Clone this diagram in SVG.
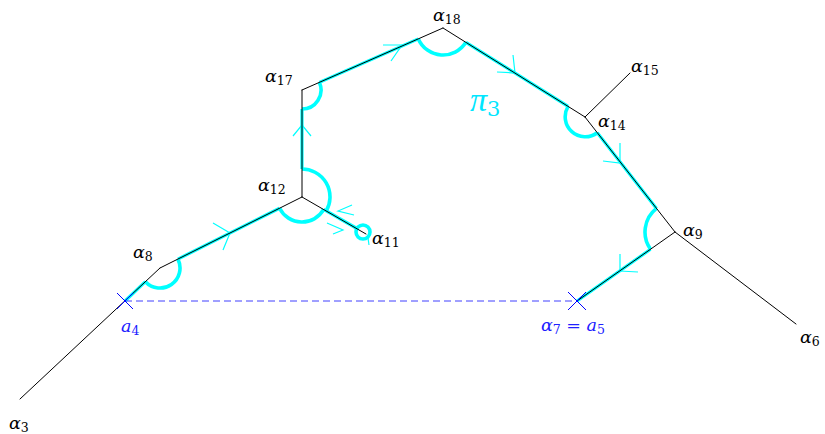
<svg xmlns="http://www.w3.org/2000/svg" width="825" height="434" viewBox="0 0 825 434">
<style>
.edge{stroke:#000;stroke-width:1;fill:none;stroke-linecap:round}
.pl{stroke:#00ffff;stroke-width:3.2;fill:none}
.pa{stroke:#00ffff;stroke-width:3.6;fill:none}
.arr{stroke:#00ffff;stroke-width:1.2;fill:none}
.bl{stroke:#0000ff;stroke-width:1;fill:none}
.dash{stroke:#4040ff;stroke-width:1;fill:none;stroke-dasharray:7 4}
.lab{font-family:'DejaVu Serif',serif;font-size:17.5px;fill:#000}
.g{font-style:italic}
.sub{font-size:12.5px;font-style:normal}
.blue{fill:#2020ff}
.pi{font-family:'Liberation Serif','DejaVu Sans',sans-serif;fill:#00e6ff}
.pisub{font-family:'DejaVu Serif',serif;fill:#00e6ff;font-size:21px}
</style>
<rect width="825" height="434" fill="#fff"/>
<g id="path-pi3">
<path class="pl" d="M125,301 L145.4,281.7 M177.9,259.1 L279.6,208.2 M323.7,209.4 L356.9,228.5 M302,169 L302,109 M319.4,82.4 L418.3,38.9 M465.9,42.3 L568.1,106.4 M597.3,132.7 L656.5,208.4 M650.5,249.3 L577,301"/>
<path class="pa" d="M145.4,281.7 A20,20 0 0 0 177.9,259.1 M279.6,208.2 A25,25 0 0 0 323.7,209.4 M326.3,210.9 A28,28 0 0 0 302,169 M302,109 A19,19 0 0 0 319.4,82.4 M418.3,38.9 A27,27 0 0 0 465.9,42.3 M568.1,106.4 A20,20 0 0 0 597.3,132.7 M656.5,208.4 A30,30 0 0 0 650.5,249.3"/>
<circle class="pa" cx="363" cy="232" r="7"/>
<path class="arr" stroke-width="1.6" d="M368,238 L369,245"/>
</g>
<g id="arrows">
<path class="arr" d="M213,223 L230,233 L223,250"/>
<path class="arr" d="M327,223 L343,230 L333,234"/>
<path class="arr" d="M352,205 L338,211 L354,215"/>
<path class="arr" d="M293,136 L302,125 L311,136"/>
<path class="arr" d="M383,45 L402,45 L391,61"/>
<path class="arr" d="M497,72 L515,73 L513,55"/>
<path class="arr" d="M620,143 L620,163 L603,161"/>
<path class="arr" d="M620,254 L620,271 L638,272"/>
</g>
<g id="connectors">
<path class="edge" d="M20,399 L160,268"/>
<path class="edge" d="M160,268 L302,197"/>
<path class="edge" d="M302,197 L302,90"/>
<path class="edge" d="M302,197 L366,234"/>
<path class="edge" d="M302,90 L443,28"/>
<path class="edge" d="M443,28 L585,117"/>
<path class="edge" d="M585,117 L630,73"/>
<path class="edge" d="M585,117 L675,232"/>
<path class="edge" d="M675,232 L796,324"/>
<path class="edge" d="M675,232 L577,301"/>
<path class="dash" d="M125,301 L577,301"/>
</g>
<g id="a4">
<path class="bl" d="M117,293 L133,309 M133,293 L117,309"/>
<text class="lab blue" x="121" y="332"><tspan class="g">a</tspan><tspan class="sub" dy="3">4</tspan></text>
</g>
<g id="a5">
<path class="bl" d="M568,292 L586,310 M586,292 L568,310"/>
<text class="lab blue" x="541" y="331"><tspan class="g">α</tspan><tspan class="sub" dy="3">7</tspan><tspan dy="-3"> = </tspan><tspan class="g">a</tspan><tspan class="sub" dy="3">5</tspan></text>
</g>
<g id="alpha3"><text class="lab" x="9" y="429"><tspan class="g">α</tspan><tspan class="sub" dy="3">3</tspan></text></g>
<g id="alpha6"><text class="lab" x="800" y="343"><tspan class="g">α</tspan><tspan class="sub" dy="3">6</tspan></text></g>
<g id="alpha8"><text class="lab" x="133" y="258"><tspan class="g">α</tspan><tspan class="sub" dy="3">8</tspan></text></g>
<g id="alpha9"><text class="lab" x="683" y="236"><tspan class="g">α</tspan><tspan class="sub" dy="3">9</tspan></text></g>
<g id="alpha11"><text class="lab" x="372" y="244"><tspan class="g">α</tspan><tspan class="sub" dy="3">11</tspan></text></g>
<g id="alpha12"><text class="lab" x="258" y="191"><tspan class="g">α</tspan><tspan class="sub" dy="3">12</tspan></text></g>
<g id="alpha14"><text class="lab" x="598" y="127"><tspan class="g">α</tspan><tspan class="sub" dy="3">14</tspan></text></g>
<g id="alpha15"><text class="lab" x="631" y="72"><tspan class="g">α</tspan><tspan class="sub" dy="3">15</tspan></text></g>
<g id="alpha17"><text class="lab" x="265" y="82"><tspan class="g">α</tspan><tspan class="sub" dy="3">17</tspan></text></g>
<g id="alpha18"><text class="lab" x="433" y="21"><tspan class="g">α</tspan><tspan class="sub" dy="3">18</tspan></text></g>
<g id="pi3"><text class="pi" x="470" y="111" font-size="34"><tspan font-style="italic">π</tspan><tspan class="pisub" dy="5">3</tspan></text></g>
</svg>
